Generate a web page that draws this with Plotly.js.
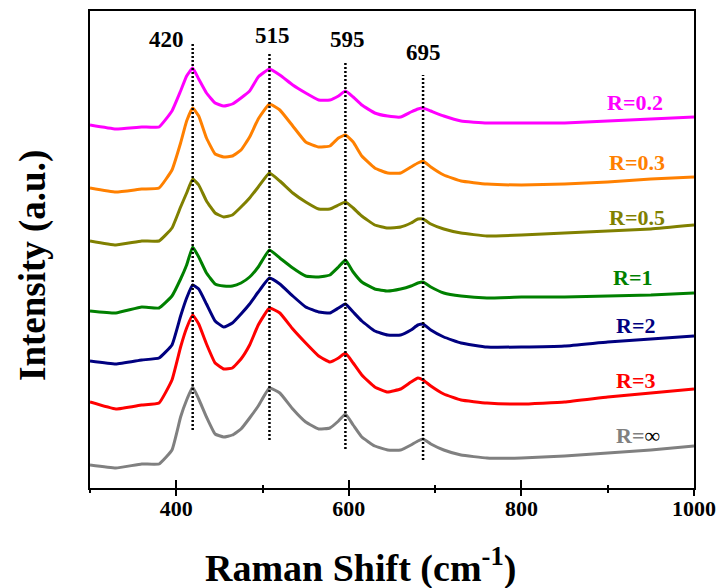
<!DOCTYPE html>
<html>
<head>
<meta charset="utf-8">
<script src="https://cdn.plot.ly/plotly-3.0.1.min.js"></script>
<style>html,body{margin:0;padding:0;background:#fff;}#chart{width:725px;height:588px;}</style>
</head>
<body>
<div id="chart"></div>
<script>
// Raman shift (cm-1)
const ramanShift = [300,330,360,380,395,405,412,419,426,435,445,455,465,475,485,495,508,520,535,550,565,578,588,596,605,615,630,645,660,672,680,686,695,710,730,760,800,850,900,950,1000];

// Stacked intensities (a.u.)
const intR02 = [363,359,361,361,377,397,412,420,409,395,385,382,384,390,397,411,419,413,403,395,388,388,392,397,391,383,375,372,371,376,379,380,377,372,367,365,365,365,367,369,371];
const intR03 = [300,296,299,300,318,345,367,380,372,350,334,331,332,338,351,369,384,378,362,346,341,342,350,353,346,332,320,315,315,321,325,327,321,313,307,304,303,304,306,309,311];
const intR05 = [247,243,247,247,260,281,295,309,303,287,275,271,273,281,290,301,315,307,295,286,279,279,283,286,280,272,263,260,261,265,269,269,264,259,255,252,253,255,257,259,263];
const intR1  = [177,175,181,180,192,209,223,241,231,215,204,202,202,205,211,221,238,230,220,212,211,213,221,228,216,206,199,197,199,202,205,206,201,195,192,190,191,191,192,193,195];
const intR2  = [127,124,128,130,143,172,190,203,199,184,167,161,165,174,184,196,210,204,192,181,176,175,180,184,176,167,157,153,153,158,163,164,158,151,145,141,141,142,146,149,152];
const intR3  = [86,79,83,85,108,141,160,173,164,144,125,119,120,129,143,163,180,175,159,145,132,126,130,135,125,113,101,96,99,106,110,108,102,94,88,85,84,86,91,95,99];
const intRinf= [23,20,24,24,38,71,88,101,89,71,54,51,53,59,70,82,100,95,79,66,59,60,67,74,63,51,42,38,38,43,47,49,44,38,33,30,30,32,35,38,42];

const seriesNames = ['R=0.2','R=0.3','R=0.5','R=1','R=2','R=3','R=&#8734;'];
const seriesColors = ['#FF00FF','#FF8000','#808000','#008000','#000080','#FF0000','#808080'];
const seriesValues = [intR02,intR03,intR05,intR1,intR2,intR3,intRinf];

// Peak markers
const peakPositions = [419,508,596,686];
const peakLabels = ['420','515','595','695'];
const peakLineTop = [445,435,426,413];
const peakLineBottom = [58,48,39,28];
const peakLabelX = [389,511,599,686];
const peakLabelY = [449,453,449,436];

// Series label anchors
const seriesLabelX = [932,934,934,929,932,932,935];
const seriesLabelY = [386,326,271,211,163,108,53];

const FONT = 'Liberation Serif, Times New Roman, serif';

const traces = seriesValues.map((v,i)=>({
  x: ramanShift, y: v, type:'scatter', mode:'lines',
  line:{color:seriesColors[i], width:3, shape:'spline', smoothing:0.35},
  name: seriesNames[i], showlegend:false, hoverinfo:'skip'
}));
traces.push({x:[], y:[], xaxis:'x2', yaxis:'y', type:'scatter', mode:'lines', showlegend:false});

const shapes = peakPositions.map((p,i)=>({
  type:'line', xref:'x', yref:'y', x0:p, x1:p, y0:peakLineBottom[i], y1:peakLineTop[i],
  line:{color:'#000', width:2.5, dash:'2px,2px'}
}));

const annotations = [];
peakLabels.forEach((t,i)=>annotations.push({
  x:peakLabelX[i], y:peakLabelY[i], xref:'x', yref:'y', text:t, showarrow:false,
  font:{family:FONT, size:23, color:'#000', weight:'bold'}
}));
seriesNames.forEach((t,i)=>{
  let txt = t;
  if (i===6) txt = 'R=<span style="color:#000;font-weight:normal">&#8734;</span>';
  annotations.push({
    x:seriesLabelX[i], y:seriesLabelY[i], xref:'x', yref:'y', text:txt, showarrow:false,
    font:{family:FONT, size:22, color:seriesColors[i], weight:'bold'}
  });
});
annotations.push({
  xref:'paper', yref:'paper', x:(360-90)/(694-90), y:(488-565)/(488-11),
  text:'Raman Shift (cm<sup>-1</sup>)', showarrow:false, xanchor:'center', yanchor:'middle',
  font:{family:FONT, size:38, color:'#000', weight:'bold'}
});
annotations.push({
  xref:'paper', yref:'paper', x:(33-90)/(694-90), y:(488-266)/(488-11), textangle:-90,
  text:'Intensity (a.u.)', showarrow:false, xanchor:'center', yanchor:'middle',
  font:{family:FONT, size:37, color:'#000', weight:'bold'}
});

const layout = {
  width:725, height:588,
  margin:{l:90, r:31, t:11, b:100},
  paper_bgcolor:'#fff', plot_bgcolor:'#fff',
  xaxis:{
    range:[300,1000], tick0:0, dtick:200, ticks:'inside', ticklen:8, tickwidth:2, tickcolor:'#000',
    minor:{dtick:100, ticks:'inside', ticklen:3, tickwidth:2, tickcolor:'#000'},
    showline:true, linewidth:2, linecolor:'#000', mirror:true, showgrid:false, zeroline:false,
    tickfont:{family:FONT, size:22, color:'#000', weight:'bold'}
  },
  xaxis2:{
    range:[300,1000], overlaying:'x', anchor:'y', side:'bottom', tick0:0, dtick:200,
    ticks:'outside', ticklen:7, tickwidth:2, tickcolor:'#000', showticklabels:false,
    minor:{dtick:100, ticks:'outside', ticklen:4, tickwidth:2, tickcolor:'#000'},
    showline:false, showgrid:false, zeroline:false
  },
  yaxis:{
    range:[0,477], showticklabels:false, ticks:'', showgrid:false, zeroline:false,
    showline:true, linewidth:2, linecolor:'#000', mirror:true
  },
  shapes: shapes,
  annotations: annotations
};

Plotly.newPlot('chart', traces, layout, {staticPlot:true, displayModeBar:false});
</script>
</body>
</html>
